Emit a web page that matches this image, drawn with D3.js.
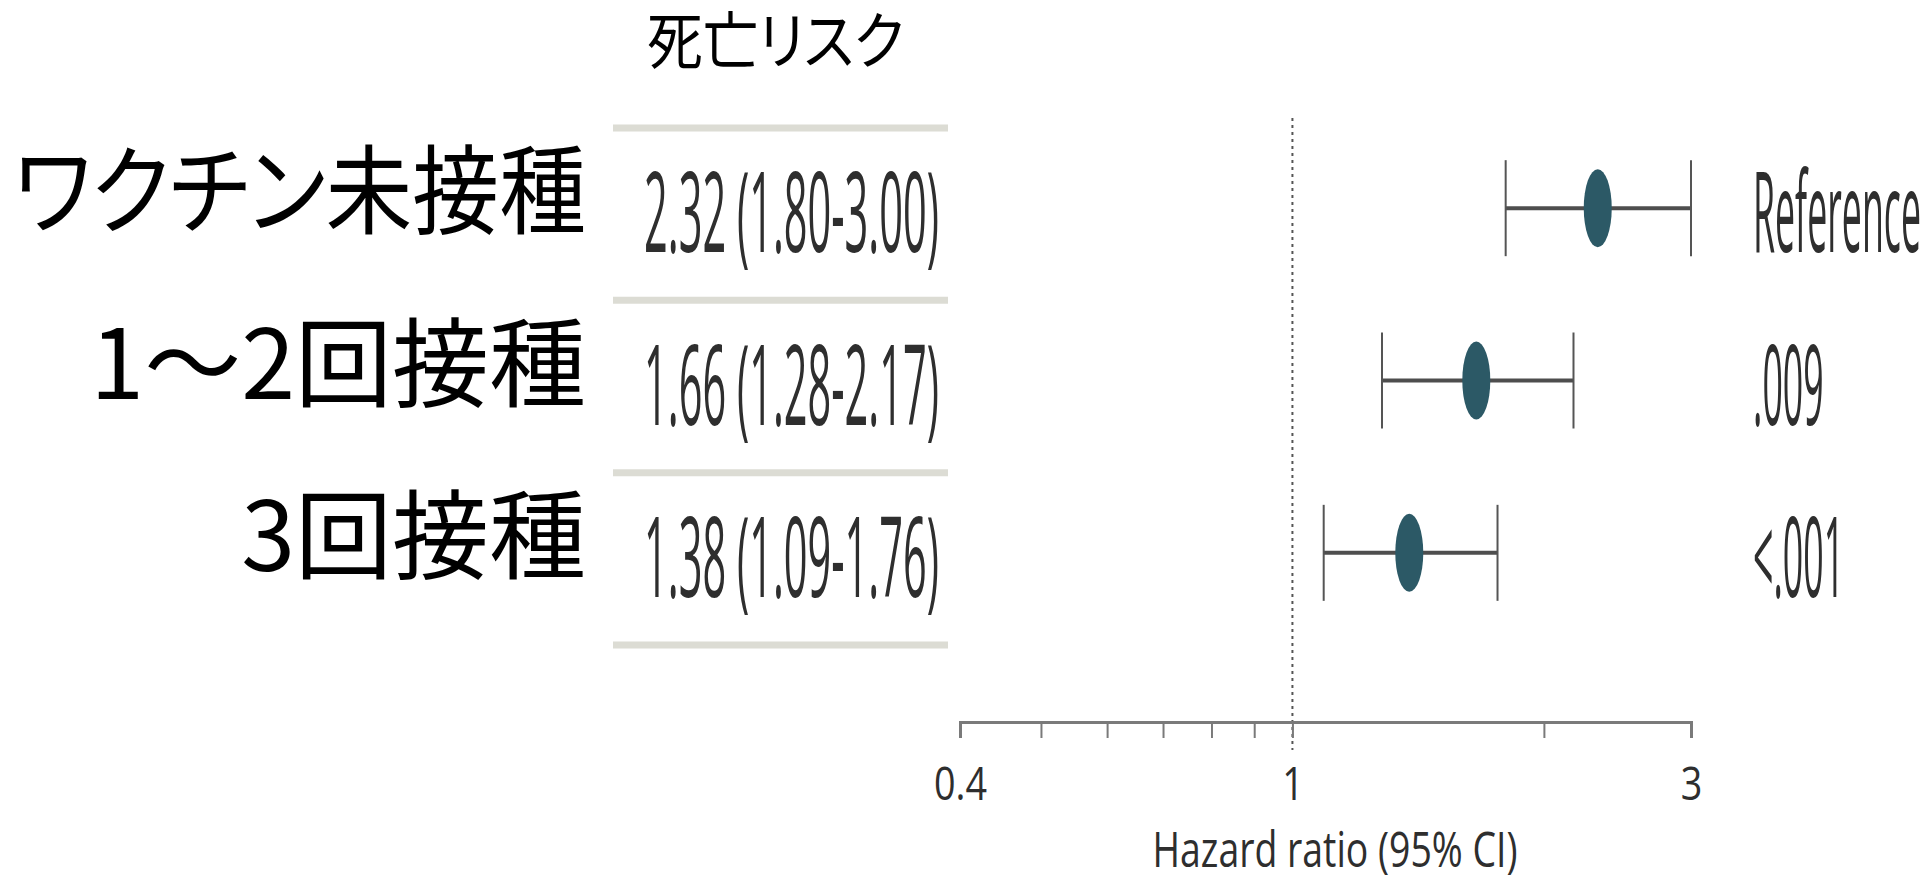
<!DOCTYPE html>
<html>
<head>
<meta charset="utf-8">
<script src="https://cdn.jsdelivr.net/npm/d3@7"></script>
<style>
  body { margin: 0; background: #fff; }
  .jp  { font-family: "Noto Sans CJK JP", sans-serif; font-feature-settings: "palt"; fill: #000; }
  .lat { font-family: "Open Sans", "Noto Sans", sans-serif; fill: #2e2e2e; }
</style>
</head>
<body>
<div id="forest"></div>
<script>
// ---- data ----
const groups   = ["ワクチン未接種", "1～2回接種", "3回接種"];
const hr       = [2.32, 1.66, 1.38];
const ciLow    = [1.80, 1.28, 1.09];
const ciHigh   = [3.00, 2.17, 1.76];
const pValues  = ["Reference", ".009", "<.001"];
const tickValues = [0.4, 0.5, 0.6, 0.7, 0.8, 0.9, 1, 2, 3];
const tickLabels = { 0.4: "0.4", 1: "1", 3: "3" };
const columnTitle = "死亡リスク";
const axisTitle   = "Hazard ratio (95% CI)";

const width = 1932, height = 875;
const rows = groups.map((g, i) => ({ group: g, hr: hr[i], lo: ciLow[i], hi: ciHigh[i], p: pValues[i] }));
const fmt = d3.format(".2f");

/*****************/
/*   Containers  */
/*****************/
const svg = d3.select("#forest")
  .append("svg")
    .attr("width", width)
    .attr("height", height)
    .attr("viewBox", [0, 0, width, height]);

/*************/
/*  Scales   */
/*************/
const xScale = d3.scaleLog()
  .domain([0.4, 3])
  .range([960, 1691]);

const yScale = d3.scaleBand()
  .domain(groups)
  .range([128, 645]);

const rowMid = d => yScale(d.group) + yScale.bandwidth() / 2;

// the source uses a tall condensed face: squeeze text horizontally to a target width
const fitScale = (node, w) => w / node.getComputedTextLength();
// only squeeze when the text is wider than the room it has
const maxScale = (node, w) => Math.min(1, fitScale(node, w));

/***********************/
/*  Column title + rows */
/***********************/
const title = svg.append("text")
    .attr("class", "jp")
    .attr("font-size", 62)
    .attr("dominant-baseline", "central")
    .text(columnTitle);
title.attr("transform", `translate(647,37) scale(${maxScale(title.node(), 257)},1)`);

// group labels (right aligned, kept inside the left margin)
const labels = svg.append("g")
  .selectAll("text")
  .data(rows)
  .join("text")
    .attr("class", "jp")
    .attr("font-size", 97)
    .attr("text-anchor", "end")
    .attr("dominant-baseline", "central")
    .text(d => d.group);
labels.attr("transform", function(d) {
  return `translate(586,${rowMid(d) - 30}) scale(${maxScale(this, 572)},1)`;
});

// separators of the estimate column
const bounds = groups.map(g => yScale(g)).concat([yScale.range()[1]]);
svg.append("g")
  .selectAll("line")
  .data(bounds)
  .join("line")
    .attr("x1", 613)
    .attr("x2", 948)
    .attr("y1", d => d)
    .attr("y2", d => d)
    .attr("stroke", "#dcdcd4")
    .attr("stroke-width", 7);

// HR (95% CI) text
const estText = svg.append("g")
  .selectAll("text")
  .data(rows)
  .join("text")
    .attr("class", "lat")
    .attr("font-size", 112)
    .text(d => `${fmt(d.hr)} (${fmt(d.lo)}-${fmt(d.hi)})`);
const sxEst = fitScale(estText.node(), 295);
estText.attr("transform", d => `translate(644,${rowMid(d) + 38}) scale(${sxEst},1)`);

// p values
const pText = svg.append("g")
  .selectAll("text")
  .data(rows)
  .join("text")
    .attr("class", "lat")
    .attr("font-size", 112)
    .text(d => d.p);
const sxP = fitScale(pText.node(), 168);
pText.attr("transform", d => `translate(1753,${rowMid(d) + 38}) scale(${sxP},1)`);

/*********************/
/*  Reference line   */
/*********************/
svg.append("line")
    .attr("x1", xScale(1))
    .attr("x2", xScale(1))
    .attr("y1", 118)
    .attr("y2", 750)
    .attr("stroke", "#555")
    .attr("stroke-width", 2)
    .attr("stroke-dasharray", "3,4");

/*******************/
/*  CI markers     */
/*******************/
const marks = svg.append("g")
  .selectAll("g")
  .data(rows)
  .join("g")
    .attr("transform", d => `translate(0,${rowMid(d) - 6})`);

marks.append("line")
    .attr("x1", d => xScale(d.lo))
    .attr("x2", d => xScale(d.hi))
    .attr("stroke", "#4e4e4e")
    .attr("stroke-width", 4);

marks.selectAll(".cap")
  .data(d => [d.lo, d.hi])
  .join("line")
    .attr("class", "cap")
    .attr("x1", d => xScale(d))
    .attr("x2", d => xScale(d))
    .attr("y1", -48)
    .attr("y2", 48)
    .attr("stroke", "#555")
    .attr("stroke-width", 2);

marks.append("ellipse")
    .attr("cx", d => xScale(d.hr))
    .attr("rx", 14)
    .attr("ry", 39)
    .attr("fill", "#2c5966");

/**************/
/*   Axis     */
/**************/
const xAxis = d3.axisBottom(xScale)
  .tickValues(tickValues)
  .tickFormat(d => tickLabels[d] || "")
  .tickSize(16)
  .tickSizeOuter(16)
  .tickPadding(29);

const axisG = svg.append("g")
    .attr("transform", "translate(0,722)")
    .call(xAxis);

axisG.select(".domain").attr("stroke", "#7a7a7a").attr("stroke-width", 3);
axisG.selectAll(".tick line").attr("stroke", "#7a7a7a").attr("stroke-width", 2);
const tickText = axisG.selectAll(".tick text")
    .attr("class", "lat")
    .attr("font-size", 46);
const sxTick = fitScale(tickText.filter(d => d === 0.4).node(), 53);
tickText.attr("transform", `scale(${sxTick},1)`);

const axisLabel = svg.append("text")
    .attr("class", "lat")
    .attr("font-size", 49)
    .attr("text-anchor", "middle")
    .text(axisTitle);
const sxAxis = fitScale(axisLabel.node(), 365);
axisLabel.attr("transform", `translate(1335,867) scale(${sxAxis},1)`);
</script>
</body>
</html>
